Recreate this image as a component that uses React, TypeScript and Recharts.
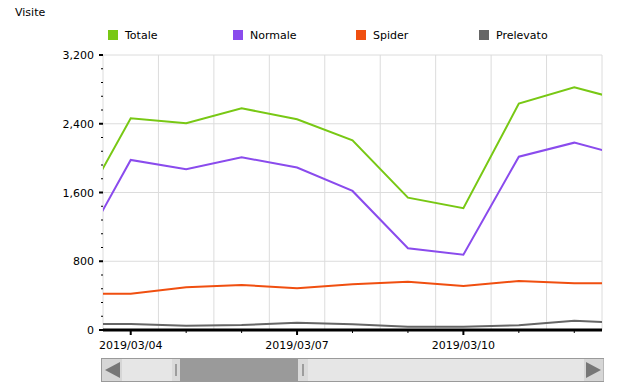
import React from 'react';
import { LineChart, Line, XAxis, YAxis, CartesianGrid } from 'recharts';

// days of March 2019; the view is zoomed between 03/03 12:00 and 03/12 12:00
const days = [3, 4, 5, 6, 7, 8, 9, 10, 11, 12, 13];
const totale = [1300, 2464, 2406, 2580, 2453, 2208, 1540, 1417, 2634, 2825, 2653];
const normale = [815, 1979, 1871, 2010, 1890, 1618, 951, 877, 2017, 2180, 2010];
const spider = [423, 423, 497, 524, 485, 532, 562, 512, 570, 543, 543];
const prelevato = [70, 70, 50, 58, 85, 66, 38, 38, 55, 108, 78];

const xDomain = [3.5, 12.5];
const xTicks = [4, 5, 6, 7, 8, 9, 10, 11, 12];
const xLabelled = [4, 7, 10];
const xGridTicks = [3.5, 4.5, 5.5, 6.5, 7.5, 8.5, 9.5, 10.5, 11.5, 12.5];
const yTicks = [0, 160, 320, 480, 640, 800, 960, 1120, 1280, 1440, 1600, 1760, 1920, 2080, 2240, 2400, 2560, 2720, 2880, 3040, 3200];
const yMajor = [0, 800, 1600, 2400, 3200];

const series = [
  { key: 'totale', name: 'Totale', color: '#78c814' },
  { key: 'normale', name: 'Normale', color: '#8a4bed' },
  { key: 'spider', name: 'Spider', color: '#f04f10' },
  { key: 'prelevato', name: 'Prelevato', color: '#666666' },
];

const data = days.map((d, i) => ({
  day: d,
  totale: totale[i],
  normale: normale[i],
  spider: spider[i],
  prelevato: prelevato[i],
}));

const font = "'DejaVu Sans', Verdana, sans-serif";
const pad = (n: number) => (n < 10 ? `0${n}` : `${n}`);

const XTick = (props: any) => {
  const { x, y, payload } = props;
  const major = xLabelled.includes(payload.value);
  return (
    <g>
      <line x1={x} x2={x} y1={y} y2={y + (major ? 5 : 3)} stroke="#000" strokeWidth={major ? 2 : 1} />
      {major && (
        <text x={x} y={y + 19} textAnchor="middle" fontSize={11} fontFamily={font} fill="#000">
          {`2019/03/${pad(payload.value)}`}
        </text>
      )}
    </g>
  );
};

const YTick = (props: any) => {
  const { x, y, payload } = props;
  const major = yMajor.includes(payload.value);
  return (
    <g>
      <line x1={x - (major ? 4 : 2)} x2={x} y1={y} y2={y} stroke="#000" strokeWidth={major ? 2 : 1} />
      {major && (
        <text x={x - 9} y={y + 4} textAnchor="end" fontSize={11} fontFamily={font} fill="#000">
          {payload.value.toLocaleString('en-US')}
        </text>
      )}
    </g>
  );
};

const Scrollbar = () => (
  <svg width={620} height={392} style={{ position: 'absolute', left: 0, top: 0, pointerEvents: 'none' }}>
    <rect x={101.5} y={358.5} width={502} height={23} fill="#e6e6e6" stroke="#9a9a9a" />
    <rect x={102} y={359} width={20} height={22} fill="#d6d6d6" />
    <polygon points="105,370 120,362 120,378" fill="#777" />
    <rect x={584} y={359} width={19.5} height={22} fill="#d6d6d6" />
    <polygon points="601,370 586,362 586,378" fill="#777" />
    <rect x={172} y={359} width={136} height={22} fill="#dadada" />
    <rect x={180} y={359} width={118} height={22} fill="#9a9a9a" />
    <line x1={176} x2={176} y1={364} y2={376} stroke="#888" strokeWidth={1.5} />
    <line x1={303} x2={303} y1={364} y2={376} stroke="#888" strokeWidth={1.5} />
  </svg>
);

const legendLeft = [108, 233, 356, 479];

export default function App() {
  return (
    <div style={{ position: 'absolute', left: 0, top: 0, width: 620, height: 392, background: '#fff', fontFamily: font }}>
      <div style={{ position: 'absolute', left: 15, top: 6, fontSize: 11, color: '#000' }}>Visite</div>
      {series.map((s, i) => (
        <div key={s.key} style={{ position: 'absolute', left: legendLeft[i], top: 29, height: 12, display: 'flex', alignItems: 'center', fontSize: 11, color: '#000' }}>
          <span style={{ display: 'inline-block', width: 10, height: 10, background: s.color, marginRight: 7 }} />
          {s.name}
        </div>
      ))}
      <LineChart width={620} height={392} data={data} margin={{ top: 55, right: 18, bottom: 32, left: 43 }}>
        <XAxis xAxisId="grid" type="number" dataKey="day" domain={xDomain} ticks={xGridTicks} allowDataOverflow hide />
        <YAxis yAxisId="grid" type="number" domain={[0, 3200]} ticks={yMajor} allowDataOverflow hide />
        <CartesianGrid xAxisId="grid" yAxisId="grid" stroke="#dcdcdc" />
        <XAxis
          type="number"
          dataKey="day"
          domain={xDomain}
          ticks={xTicks}
          interval={0}
          allowDataOverflow
          height={30}
          tickSize={0}
          tickMargin={0}
          tickLine={false}
          axisLine={{ stroke: '#000', strokeWidth: 3 }}
          tick={<XTick />}
        />
        <YAxis
          type="number"
          domain={[0, 3200]}
          ticks={yTicks}
          interval={0}
          width={60}
          tickSize={0}
          tickMargin={0}
          tickLine={false}
          axisLine={false}
          tick={<YTick />}
        />
        {series.map((s) => (
          <Line key={s.key} type="linear" dataKey={s.key} name={s.name} stroke={s.color} strokeWidth={2} dot={false} isAnimationActive={false} />
        ))}
      </LineChart>
      <Scrollbar />
    </div>
  );
}
